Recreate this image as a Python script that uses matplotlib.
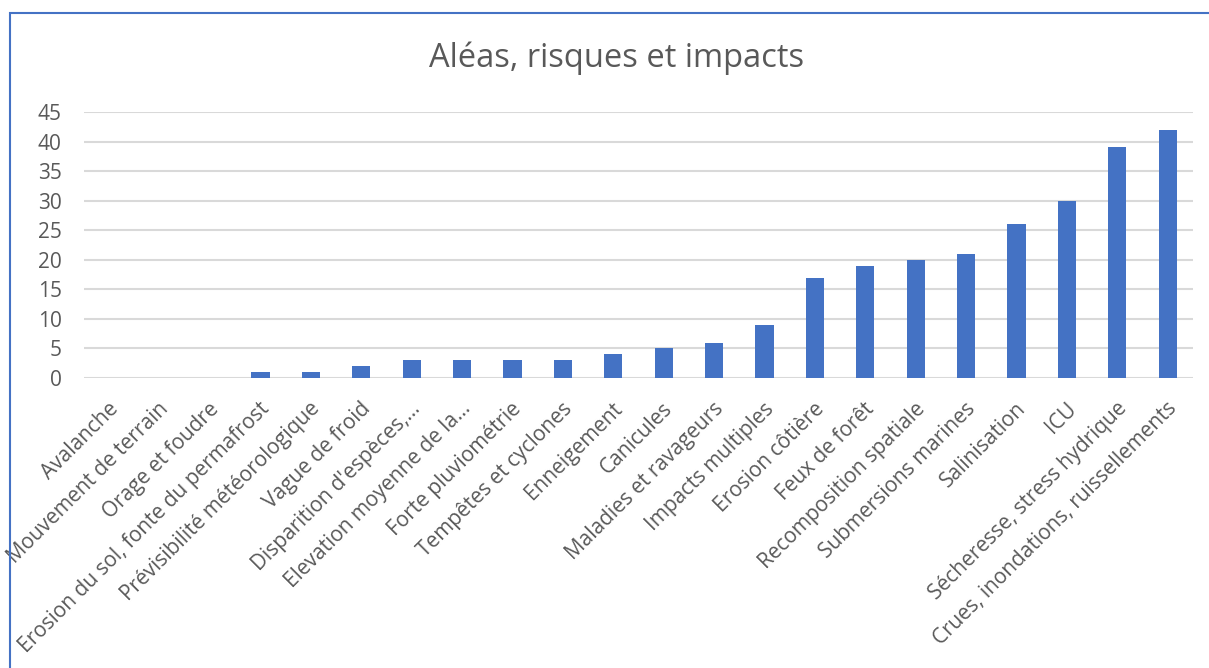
import matplotlib
matplotlib.use("Agg")
import matplotlib.pyplot as plt
from matplotlib.patches import Rectangle
from matplotlib.transforms import ScaledTranslation

categories = [
    "Avalanche", "Mouvement de terrain", "Orage et foudre",
    "Erosion du sol, fonte du permafrost", "Prévisibilité météorologique",
    "Vague de froid", "Disparition d'espèces,…", "Elevation moyenne de la…",
    "Forte pluviométrie", "Tempêtes et cyclones", "Enneigement", "Canicules",
    "Maladies et ravageurs", "Impacts multiples", "Erosion côtière",
    "Feux de forêt", "Recomposition spatiale", "Submersions marines",
    "Salinisation", "ICU", "Sécheresse, stress hydrique",
    "Crues, inondations, ruissellements",
]
values = [0, 0, 0, 1, 1, 2, 3, 3, 3, 3, 4, 5, 6, 9, 17, 19, 20, 21, 26, 30, 39, 42]
yticks = [0, 5, 10, 15, 20, 25, 30, 35, 40, 45]

plt.rcParams['font.family'] = ['Open Sans', 'DejaVu Sans']

W, H = 1209, 668
fig = plt.figure(figsize=(W / 100, H / 100), dpi=100)
ax = fig.add_axes([84 / W, 1 - 378 / H, (1193 - 84) / W, (378 - 112) / H])

# contour bleu du graphique (gauche et haut visibles)
fig.patches.append(Rectangle((10 / W, -0.1), 1.2, 1 - 13 / H + 0.1,
                             transform=fig.transFigure, fill=False,
                             edgecolor='#4472C4', linewidth=1.5))

x = range(len(categories))
ax.bar(x, values, width=0.36, color='#4472C4', zorder=3)

ax.set_xlim(-0.5, len(categories) - 0.5)
ax.set_ylim(0, 45)
ax.set_yticks(yticks)
ax.grid(axis='y', color='#D9D9D9', linewidth=1.5, zorder=0)
for s in ax.spines.values():
    s.set_visible(False)
ax.tick_params(axis='both', length=0, colors='#595959', labelsize=15)
ax.tick_params(axis='y', pad=16)
ax.set_xticks(list(x))
ax.set_xticklabels(categories, rotation=45, ha='right', va='center',
                   rotation_mode='anchor')
ax.tick_params(axis='x', pad=20)
decal = ScaledTranslation(0.06, 0, fig.dpi_scale_trans)
for lab in ax.get_xticklabels():
    lab.set_transform(lab.get_transform() + decal)

fig.text(617 / W, 1 - 58 / H, "Aléas, risques et impacts", ha='center',
         va='center', fontsize=23.5, color='#595959')

fig.savefig("out.png", dpi=100)
